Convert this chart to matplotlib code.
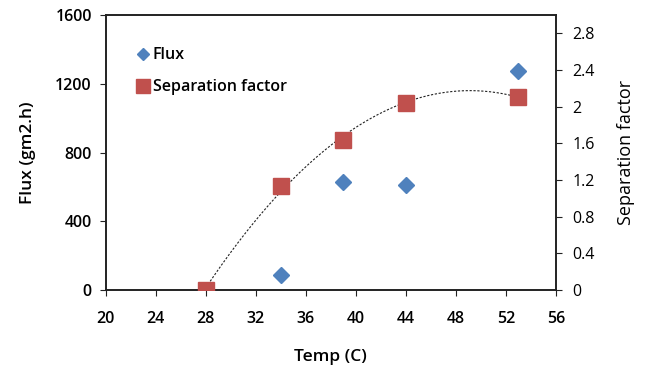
import numpy as np
import matplotlib
matplotlib.use("Agg")
import matplotlib.pyplot as plt
from matplotlib.lines import Line2D

plt.rcParams['font.family'] = ['Open Sans', 'DejaVu Sans']

temp_flux = [34, 39, 44, 53]
flux = [85, 630, 612, 1272]
temp_sep = [28, 34, 39, 44, 53]
sep = [0.0, 1.14, 1.64, 2.04, 2.11]

x_ticks = [20, 24, 28, 32, 36, 40, 44, 48, 52, 56]
y_ticks = [0, 400, 800, 1200, 1600]
y2_ticks = [0, 0.4, 0.8, 1.2, 1.6, 2, 2.4, 2.8]
y2_labels = ['0', '0.4', '0.8', '1.2', '1.6', '2', '2.4', '2.8']

blue = '#4F81BD'
red = '#C0504D'

fig = plt.figure(figsize=(6.45, 3.72), dpi=100)
ax = fig.add_axes([0.164, 0.2204, 0.698, 0.7393])
ax2 = ax.twinx()

ax.plot(temp_flux, flux, linestyle='none', marker='D', color=blue, markersize=8, zorder=3)
ax2.plot(temp_sep, sep, linestyle='none', marker='s', color=red, markersize=11, zorder=3)

coef = np.polyfit(temp_sep, sep, 2)
xs = np.linspace(min(temp_sep), max(temp_sep), 200)
ax2.plot(xs, np.polyval(coef, xs), linestyle=(0, (2, 1.5)), color='#222222', linewidth=0.8, zorder=2)

ax.set_xlim(20, 56)
ax.set_ylim(0, 1600)
ax2.set_ylim(0, 3.0)
ax.set_xticks(x_ticks)
ax.set_yticks(y_ticks)
ax2.set_yticks(y2_ticks)
ax2.set_yticklabels(y2_labels)

for a in (ax, ax2):
    for s in a.spines.values():
        s.set_linewidth(1.2)
        s.set_color('#222222')

ax.tick_params(axis='both', direction='out', length=4, width=0.8, colors='#222222',
               labelsize=11.5, labelcolor='black')
ax.tick_params(axis='x', pad=11)
ax.tick_params(axis='y', pad=6)
ax2.tick_params(axis='y', direction='out', length=4, width=0.8, colors='#222222',
                labelsize=11.5, labelcolor='black', pad=8)
for lab in ax.get_xticklabels() + ax.get_yticklabels():
    lab.set_fontweight('semibold')

ax.set_xlabel('Temp (C)', fontsize=12.5, fontweight='semibold', labelpad=16)
ax.set_ylabel('Flux (gm2.h)', fontsize=12.5, fontweight='semibold', labelpad=14)
ax2.set_ylabel('Separation factor', fontsize=13, labelpad=16)

handles = [Line2D([], [], linestyle='none', marker='D', color=blue, markersize=6),
           Line2D([], [], linestyle='none', marker='s', color=red, markersize=10)]
leg = ax.legend(handles, ['Flux', 'Separation factor'], loc='upper left',
                bbox_to_anchor=(0.033, 0.935), frameon=False, handletextpad=0.1,
                handlelength=1.0, labelspacing=1.0, prop={'size': 11.5, 'weight': 'semibold'})

fig.savefig('out.png', dpi=100)
